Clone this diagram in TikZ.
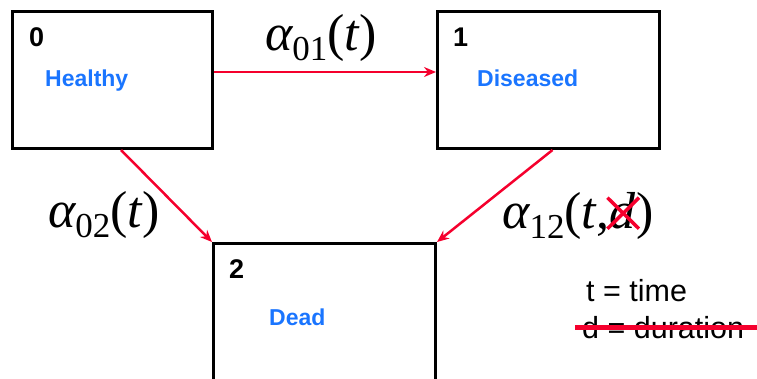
\documentclass[tikz,border=0pt]{standalone}
\usepackage{fontspec}
\setmainfont{Liberation Sans}
\newfontfamily\tms{Liberation Serif}
\usetikzlibrary{arrows.meta}

\definecolor{rateRed}{RGB}{245,0,45}
\definecolor{stateBlue}{RGB}{26,117,255}

% transition intensity, Times style
\newcommand{\ratefont}{\tms\fontsize{52}{52}\selectfont}
\newcommand{\rate}[2]{{\ratefont\itshape α\raisebox{-0.2em}{\fontsize{35}{35}\selectfont\upshape #1}\upshape(\itshape #2\upshape)}}

\tikzset{
  statebox/.style={draw, line width=3pt, minimum width=222pt, minimum height=137pt, inner sep=0pt},
  stateno/.style={anchor=base west, inner sep=0pt, font=\fontsize{27}{27}\selectfont\bfseries},
  statename/.style={anchor=base west, inner sep=0pt, text=stateBlue, font=\fontsize{23}{23}\selectfont\bfseries},
  ratelabel/.style={anchor=base west, inner sep=0pt},
  trans/.style={-{Stealth[length=12pt,width=10pt]}, rateRed, line width=2.5pt},
  crossout/.style={rateRed, line width=3.5pt},
  notetext/.style={anchor=base west, inner sep=0pt, font=\fontsize{30.5}{30.5}\selectfont}
}

\begin{document}
\begin{tikzpicture}[x=1pt, y=-1pt]
    \clip (0,0) rectangle (757,378);

    % States
    \node[statebox, minimum width=200pt] (healthy) at (112,80) {};
    \node[statebox] (diseased) at (548.5,80) {};
    \node[statebox, minimum height=200pt] (dead) at (324.5,343.5) {};

    % State annotations
    \node[stateno] (n0) at (29,46) {0};
    \node[statename] (s0) at (45,86) {Healthy};
    \node[stateno] (n1) at (453,46) {1};
    \node[statename] (s1) at (477,86) {Diseased};
    \node[stateno] (n2) at (229,278) {2};
    \node[statename] (s2) at (269,325) {Dead};

    % Transitions
    \draw[trans] ([yshift=8pt]healthy.east) -- ([yshift=8pt]diseased.west);
    \draw[trans] ([xshift=9pt]healthy.south) -- (dead.north west);
    \draw[trans] ([xshift=4pt]diseased.south) -- (dead.north east);

    % Intensities
    \node[ratelabel] (r12) at (502,228) {{\ratefont\itshape α\raisebox{-0.2em}{\fontsize{35}{35}\selectfont\upshape 12}\upshape(\itshape t\upshape,}};
    \node[ratelabel] (r12d) at (r12.base east) {\ratefont\itshape d\/};
    \node[ratelabel] (r12p) at (r12d.base east) {\ratefont )};
    \node[ratelabel] (r01) at (265,50) {\rate{01}{t}};
    \node[ratelabel] (r02) at (48,227) {\rate{02}{t}};

    % d crossed out
    \draw[crossout] ([shift={(-2pt,-6pt)}]r12d.north west) -- ([shift={(3pt,0pt)}]r12d.south east);
    \draw[crossout] ([shift={(-2pt,0pt)}]r12d.south west) -- ([shift={(3pt,-6pt)}]r12d.north east);

    % Legend
    \node[notetext] (tt) at (586,301) {t = time};
    \node[notetext] (dd) at (582,338) {d = duration};
    \draw[rateRed, line width=5pt] ([xshift=-7pt]dd.west) -- ++(190,0);
\end{tikzpicture}
\end{document}
